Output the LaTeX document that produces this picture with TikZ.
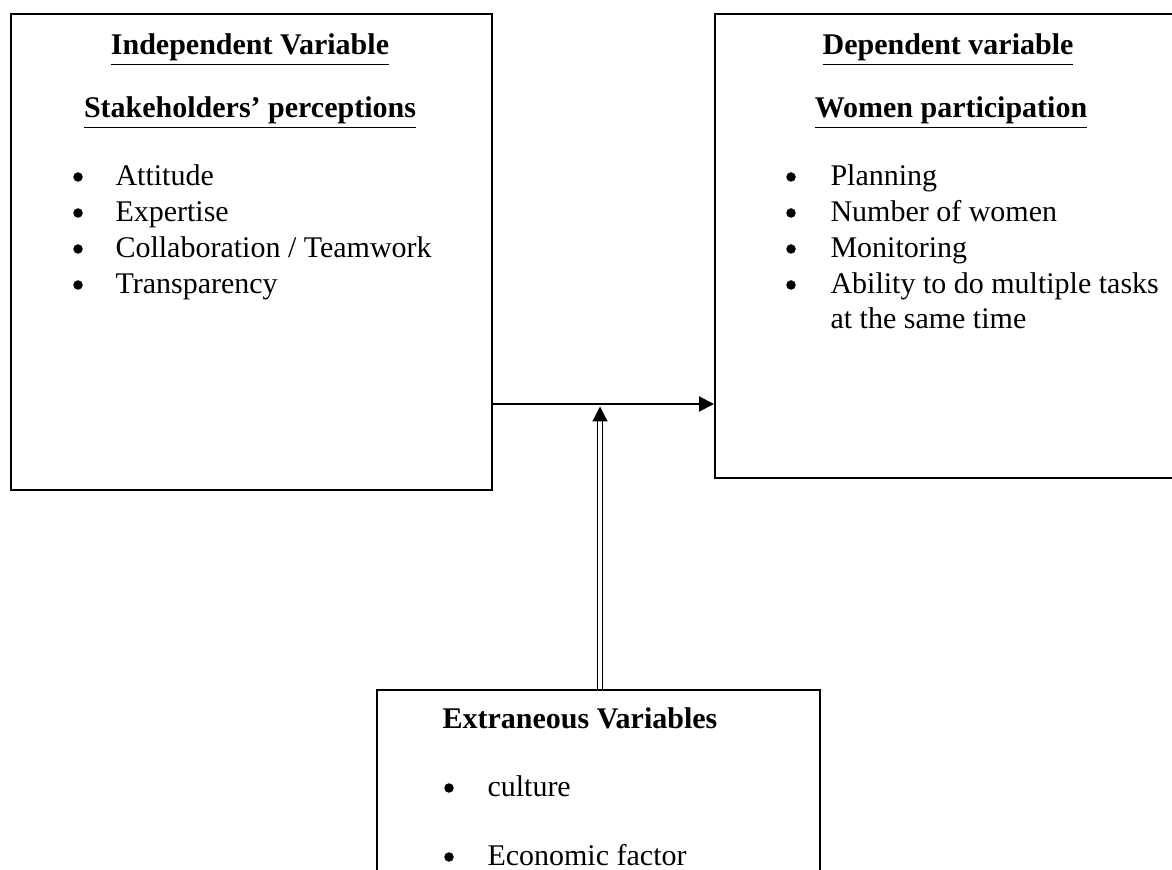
\documentclass[tikz,border=0pt]{standalone}
\usepackage{fontspec}
\setmainfont{Liberation Serif}
\usetikzlibrary{arrows.meta}

\tikzset{
  varbox/.style = {draw, line width=0.8pt, minimum width=#1},
  head/.style = {font=\fontsize{12}{14.4}\selectfont\bfseries, anchor=base},
  item/.style = {anchor=base west, inner sep=0pt},
  dot/.style = {circle, fill, inner sep=0pt, minimum size=3.8pt},
}

\begin{document}
\begin{tikzpicture}[x = 0.4pt, y = -0.4pt, font=\fontsize{12}{14.4}\selectfont]
\useasboundingbox (0, 0) rectangle (1172, 870);
\clip (0, 0) rectangle (1172, 870);

\node[varbox = 192.4pt, minimum height = 190.4pt] (indep) at (251.5, 252) {};
\node[varbox = 190pt, minimum height = 185.6pt] (dep) at (952.5, 246) {};
\node[varbox = 177.2pt, minimum height = 84pt] (extr) at (598.5, 795) {};

% independent side
\node[head] (indeptitle) at (250, 55) {\underline{Independent Variable}};
\node[head] (indepsub) at (250, 118) {\underline{Stakeholders' perceptions}};
\node[dot] (b1) at (78, 177) {};
\node[dot] (b2) at (78, 213) {};
\node[dot] (b3) at (78, 249) {};
\node[dot] (b4) at (78, 285) {};
\node[item] (i1) at (115, 186) {Attitude};
\node[item] (i2) at (115, 222) {Expertise};
\node[item] (i3) at (115, 258) {Collaboration / Teamwork};
\node[item] (i4) at (115, 294) {Transparency};

% dependent side
\node[head] (deptitle) at (948, 55) {\underline{Dependent variable}};
\node[head] (depsub) at (951, 118) {\underline{Women participation}};
\node[dot] (d1) at (791, 177) {};
\node[dot] (d2) at (791, 213) {};
\node[dot] (d3) at (791, 249) {};
\node[dot] (d4) at (791, 285) {};
\node[item] (j1) at (830, 186) {Planning};
\node[item] (j2) at (830, 222) {Number of women};
\node[item] (j3) at (830, 258) {Monitoring};
\node[item] (j4) at (830, 294) {Ability to do multiple tasks};
\node[item] (j5) at (830, 329) {at the same time};

% extraneous
\node[head] (extrtitle) at (580, 729) {Extraneous Variables};
\node[dot] (e1) at (449, 788) {};
\node[dot] (e2) at (449, 857) {};
\node[item] (k1) at (487, 796) {culture};
\node[item] (k2) at (487, 865) {Economic factor};

\coordinate (meet) at (600, 404);
\draw[line width = 0.8pt, -{Triangle[width = 6pt, length = 6pt]}] (indep.east |- meet) -- (dep.west |- meet);
\draw[line width = 0.5pt, double, double distance = 1.6pt, -{Triangle[width = 6pt, length = 6pt]}] (extr.north -| meet) -- ([yshift = -1pt]meet);
\end{tikzpicture}
\end{document}
